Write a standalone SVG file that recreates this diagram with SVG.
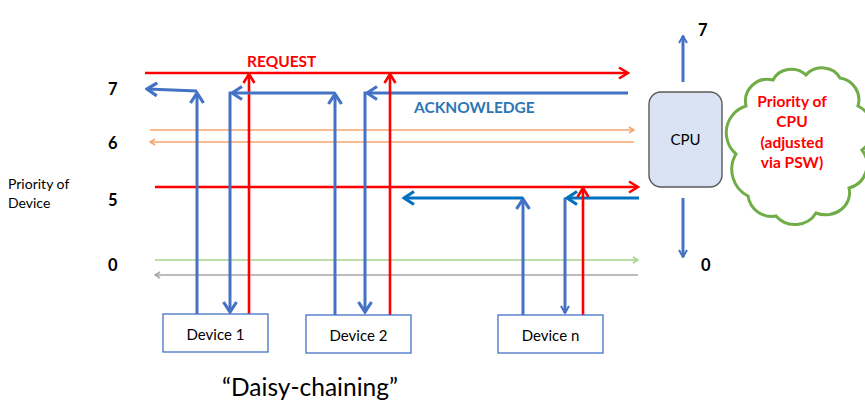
<svg xmlns="http://www.w3.org/2000/svg" width="865" height="407" viewBox="0 0 865 407">
<defs>
<style>
text{font-family:Lato,"Open Sans","Liberation Sans",sans-serif}
.b{font-weight:bold}
.red{stroke:#FF0000;stroke-width:2.6;fill:none}
.blu{stroke:#4472C4;stroke-width:3;fill:none}
.dblu{stroke:#0070C0;stroke-width:3;fill:none}
.org{stroke:#F4A46E;stroke-width:1.6;fill:none}
.grn{stroke:#A9D18E;stroke-width:1.6;fill:none}
.gry{stroke:#A6A6A6;stroke-width:1.6;fill:none}
.dev{fill:#FFFFFF;stroke:#4472C4;stroke-width:1.3}
</style>
<marker id="mr" viewBox="0 0 14 14" refX="12" refY="7" markerWidth="14" markerHeight="14" markerUnits="userSpaceOnUse" orient="auto"><path d="M3,1.5 L12,7 L3,12.5" fill="none" stroke="#FF0000" stroke-width="2.6"/></marker>
<marker id="mb" viewBox="0 0 16 16" refX="14" refY="8" markerWidth="16" markerHeight="16" markerUnits="userSpaceOnUse" orient="auto"><path d="M4,1.5 L14,8 L4,14.5" fill="none" stroke="#4472C4" stroke-width="3.2"/></marker>
<marker id="md" viewBox="0 0 16 16" refX="14" refY="8" markerWidth="16" markerHeight="16" markerUnits="userSpaceOnUse" orient="auto"><path d="M4,1.5 L14,8 L4,14.5" fill="none" stroke="#0070C0" stroke-width="3.2"/></marker>
<marker id="mbs" viewBox="0 0 10 10" refX="9" refY="5" markerWidth="10" markerHeight="10" markerUnits="userSpaceOnUse" orient="auto"><path d="M2,1 L9,5 L2,9" fill="none" stroke="#4472C4" stroke-width="2"/></marker>
<marker id="mo" viewBox="0 0 8 8" refX="7" refY="4" markerWidth="8" markerHeight="8" markerUnits="userSpaceOnUse" orient="auto"><path d="M2,1 L7,4 L2,7" fill="none" stroke="#F4A46E" stroke-width="1.6"/></marker>
<marker id="mg" viewBox="0 0 8 8" refX="7" refY="4" markerWidth="8" markerHeight="8" markerUnits="userSpaceOnUse" orient="auto"><path d="M2,1 L7,4 L2,7" fill="none" stroke="#A9D18E" stroke-width="1.6"/></marker>
<marker id="mgr" viewBox="0 0 8 8" refX="7" refY="4" markerWidth="8" markerHeight="8" markerUnits="userSpaceOnUse" orient="auto"><path d="M2,1 L7,4 L2,7" fill="none" stroke="#A6A6A6" stroke-width="1.6"/></marker>
</defs>
<rect width="865" height="407" fill="#FFFFFF"/>

<g id="labels">
<text x="247" y="67" class="b" font-size="15.5" fill="#FF0000">REQUEST</text>
<text x="414" y="113" class="b" font-size="15.5" fill="#2E75B6">ACKNOWLEDGE</text>
<text x="108" y="95" class="b" font-size="16.5" fill="#000">7</text>
<text x="108" y="149" class="b" font-size="16.5" fill="#000">6</text>
<text x="108" y="206" class="b" font-size="16.5" fill="#000">5</text>
<text x="108" y="271" class="b" font-size="16.5" fill="#000">0</text>
<text x="8" y="189" font-size="14" fill="#000">Priority of</text>
<text x="8" y="208" font-size="14" fill="#000">Device</text>
<text x="698" y="36" class="b" font-size="16.5" fill="#000">7</text>
<text x="701" y="271" class="b" font-size="16.5" fill="#000">0</text>
<text x="310" y="396" text-anchor="middle" font-size="24.5" fill="#000">“Daisy-chaining”</text>
</g>

<g id="connectors">
<line x1="145" y1="73" x2="628" y2="73" class="red" marker-end="url(#mr)"/>
<line x1="155" y1="187" x2="638" y2="187" class="red" marker-end="url(#mr)"/>
<line x1="150" y1="130" x2="634" y2="130" class="org" marker-end="url(#mo)"/>
<line x1="634" y1="142" x2="150" y2="142" class="org" marker-end="url(#mo)"/>
<line x1="155" y1="260" x2="638" y2="260" class="grn" marker-end="url(#mg)"/>
<line x1="638" y1="275" x2="155" y2="275" class="gry" marker-end="url(#mgr)"/>

<line x1="197" y1="314" x2="197" y2="93" class="blu" marker-end="url(#mb)"/>
<line x1="197" y1="91" x2="147" y2="89" class="blu" marker-end="url(#mb)"/>
<line x1="249" y1="314" x2="249" y2="74" class="red" marker-end="url(#mr)"/>
<line x1="335" y1="315" x2="335" y2="94" class="blu" marker-end="url(#mb)"/>
<line x1="335" y1="93" x2="232" y2="93" class="blu" marker-end="url(#mb)"/>
<line x1="230" y1="91.5" x2="230" y2="312" class="blu" marker-end="url(#mb)"/>
<line x1="628" y1="93" x2="367" y2="93" class="blu" marker-end="url(#mb)"/>
<line x1="365" y1="91.5" x2="365" y2="312" class="blu" marker-end="url(#mb)"/>
<line x1="390" y1="315" x2="390" y2="74" class="red" marker-end="url(#mr)"/>

<line x1="523" y1="315" x2="523" y2="199" class="blu" marker-end="url(#mb)"/>
<line x1="523" y1="198" x2="404" y2="198" class="dblu" marker-end="url(#md)"/>
<line x1="565" y1="197.5" x2="565" y2="313" class="blu" stroke-width="2.2" marker-end="url(#mbs)"/>
<line x1="639" y1="198" x2="567" y2="198" class="dblu" marker-end="url(#md)"/>
<line x1="583" y1="315" x2="583" y2="188" class="red" marker-end="url(#mr)"/>

<line x1="683" y1="82" x2="683" y2="36" class="blu" stroke-width="2.2" marker-end="url(#mbs)"/>
<line x1="683" y1="198" x2="683" y2="257" class="blu" stroke-width="2.2" marker-end="url(#mbs)"/>
</g>

<g id="device1">
<rect x="163" y="314" width="105" height="38" class="dev"/>
<text x="215.5" y="340" text-anchor="middle" font-size="15" fill="#000">Device 1</text>
</g>
<g id="device2">
<rect x="306" y="315" width="105" height="38" class="dev"/>
<text x="358.5" y="341" text-anchor="middle" font-size="15" fill="#000">Device 2</text>
</g>
<g id="devicen">
<rect x="498" y="315" width="105" height="38" class="dev"/>
<text x="550.5" y="341" text-anchor="middle" font-size="15" fill="#000">Device n</text>
</g>

<g id="cpu">
<rect x="649" y="92" width="73" height="95" rx="12" fill="#DAE3F3" stroke="#595959" stroke-width="1.4"/>
<text x="685.5" y="145" text-anchor="middle" font-size="15" fill="#000">CPU</text>
</g>

<g id="cloud">
<path d="M746,106 A22,22 0 0 1 773,80 A20,18 0 0 1 806,75 A20,18 0 0 1 840,78 A22,22 0 0 1 858,106 A26,26 0 0 1 862,150 A24,24 0 0 1 849,188 A24,22 0 0 1 816,213 A24,22 0 0 1 776,216 A24,24 0 0 1 748,196 A30,30 0 0 1 736,154 A28,28 0 0 1 746,106 Z" fill="#FFFFFF" stroke="#70AD47" stroke-width="3"/>
<text x="792" y="107" text-anchor="middle" class="b" font-size="15.5" fill="#FF0000">Priority of</text>
<text x="792" y="127" text-anchor="middle" class="b" font-size="15.5" fill="#FF0000">CPU</text>
<text x="792" y="148" text-anchor="middle" class="b" font-size="15.5" fill="#FF0000">(adjusted</text>
<text x="792" y="168" text-anchor="middle" class="b" font-size="15.5" fill="#FF0000">via PSW)</text>
</g>
</svg>
